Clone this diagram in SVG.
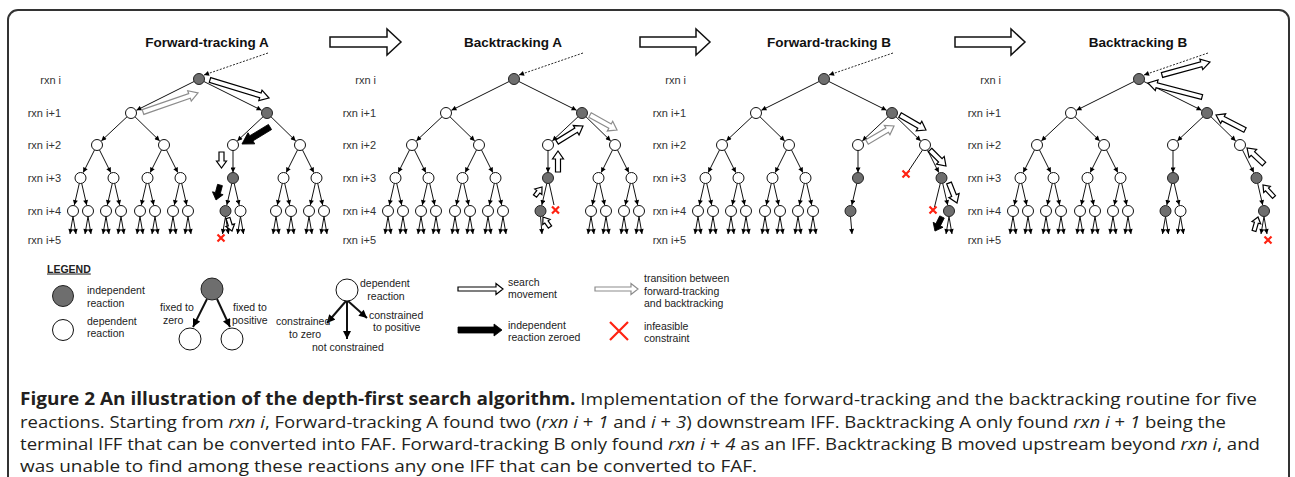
<svg xmlns="http://www.w3.org/2000/svg" xmlns:xlink="http://www.w3.org/1999/xlink" width="1295" height="477" viewBox="0 0 1295 477">
<style>
.w{fill:#fff;stroke:#111;stroke-width:1}
.g{fill:#6e6e6e;stroke:#222;stroke-width:1}
.e line{stroke:#111;stroke-width:1;marker-end:url(#ah)}
.e line.nm{marker-end:none}
.e line.dot{stroke-dasharray:2 1.5;stroke-width:0.9}
.lbl{font-family:"Liberation Sans",Arial,sans-serif;font-size:11px;fill:#333;text-anchor:end}
.ttl{font-family:"Liberation Sans",Arial,sans-serif;font-weight:bold;font-size:13.5px;fill:#111;text-anchor:middle}
.hol{fill:#fff;stroke:#000;stroke-width:1.2}
.grh{fill:#fff;stroke:#8c8c8c;stroke-width:1.2}
.blk{fill:#000;stroke:#000;stroke-width:0.8}
.x{fill:none;stroke:#f21;stroke-width:2.2}
.lg{font-family:"Liberation Sans",Arial,sans-serif;font-size:10.5px;fill:#222}
.la line{stroke:#111;stroke-width:2;marker-end:url(#ahL)}
.cap{font-family:"Open Sans","Noto Sans",sans-serif;font-size:17px;fill:#231f20}
.big{fill:#fff;stroke:#111;stroke-width:1.5}
</style>
<defs>
<marker id="ah" viewBox="0 0 10 10" refX="10" refY="5" markerWidth="6" markerHeight="5" markerUnits="userSpaceOnUse" orient="auto"><path d="M0,0L10,5L0,10Z" fill="#000"/></marker>
<marker id="ahL" viewBox="0 0 10 10" refX="10" refY="5" markerWidth="9" markerHeight="8" markerUnits="userSpaceOnUse" orient="auto"><path d="M0,0L10,5L0,10Z" fill="#000"/></marker>
<path id="xm" class="x" d="M-3.5,-3.5L3.5,3.5M-3.5,3.5L3.5,-3.5"/>
<g id="lp" class="e"><line x1="0" y1="216.5" x2="-3" y2="234"/><line x1="0" y1="216.5" x2="3" y2="234"/></g>
<g id="sub2">
<g class="e">
<line x1="-2.5" y1="150" x2="-13.8" y2="172.6"/>
<line x1="2.5" y1="150" x2="13.8" y2="172.6"/>
<line x1="-17.7" y1="183.4" x2="-22.7" y2="205.1"/>
<line x1="-15.3" y1="183.4" x2="-10.3" y2="205.1"/>
<line x1="15.3" y1="183.4" x2="10.3" y2="205.1"/>
<line x1="17.7" y1="183.4" x2="22.7" y2="205.1"/>
</g>
<use xlink:href="#lp" href="#lp" x="-24"/><use xlink:href="#lp" href="#lp" x="-9"/><use xlink:href="#lp" href="#lp" x="9"/><use xlink:href="#lp" href="#lp" x="24"/>
<circle class="w" cx="0" cy="145" r="5.5"/>
<circle class="w" cx="-16.5" cy="178" r="5.5"/><circle class="w" cx="16.5" cy="178" r="5.5"/>
<circle class="w" cx="-24" cy="211" r="5.5"/><circle class="w" cx="-9" cy="211" r="5.5"/><circle class="w" cx="9" cy="211" r="5.5"/><circle class="w" cx="24" cy="211" r="5.5"/>
</g>
<g id="top">
<g class="e">
<line class="dot" x1="69" y1="53" x2="5" y2="75"/>
<line x1="-4.9" y1="81.5" x2="-62.6" y2="110.3"/>
<line x1="4.9" y1="81.5" x2="62.6" y2="110.3"/>
<line x1="-72" y1="116.8" x2="-97.7" y2="140.9"/>
<line x1="-64" y1="116.8" x2="-39.3" y2="140.9"/>
<line x1="64" y1="116.8" x2="38.3" y2="140.9"/>
<line x1="72" y1="116.8" x2="96.7" y2="140.9"/>
</g>
<use xlink:href="#sub2" href="#sub2" x="-102"/><use xlink:href="#sub2" href="#sub2" x="-35"/>
<circle class="g" cx="0" cy="79" r="5.5"/>
<circle class="w" cx="-68" cy="113" r="5.5"/>
<circle class="g" cx="68" cy="113" r="5.5"/>
<circle class="w" cx="34" cy="145" r="5.5"/>
<text class="lbl" x="-138" y="83.5">rxn i</text>
<text class="lbl" x="-138" y="117">rxn i+1</text>
<text class="lbl" x="-138" y="149">rxn i+2</text>
<text class="lbl" x="-138" y="182">rxn i+3</text>
<text class="lbl" x="-138" y="215">rxn i+4</text>
<text class="lbl" x="-138" y="244">rxn i+5</text>
</g>
</defs>

<path id="frame" d="M8,495V20A10,10 0 0 1 18,10H1279A10,10 0 0 1 1289,20V495" fill="none" stroke="#333" stroke-width="2"/>

<g id="titles">
<text class="ttl" x="207" y="47">Forward-tracking A</text>
<text class="ttl" x="513" y="47">Backtracking A</text>
<text class="ttl" x="829" y="47">Forward-tracking B</text>
<text class="ttl" x="1138" y="47">Backtracking B</text>
</g>
<g id="stage-arrows">
<path class="big" d="M330,37H387V29L401,42L387,55V47H330Z"/>
<path class="big" d="M640,37H696V29L710,42L696,55V47H640Z"/>
<path class="big" d="M955,37H1011V29L1025,42L1011,55V47H955Z"/>
</g>

<!-- Panel 1 -->
<g id="p1" transform="translate(199,0)">
<use xlink:href="#top" href="#top"/>
<g id="p1-connectors" class="e">
<line x1="34" y1="150.5" x2="34" y2="172.5"/>
<line x1="32.8" y1="183.4" x2="27.8" y2="205.1"/>
<line x1="35.2" y1="183.4" x2="40.2" y2="205.1"/>
</g>
<use xlink:href="#sub2" href="#sub2" x="101"/>
<use xlink:href="#lp" href="#lp" x="26.5"/><use xlink:href="#lp" href="#lp" x="41.5"/>
<g id="p1-n3"><circle class="g" cx="34" cy="178" r="5.5"/></g>
<g id="p1-n4a"><circle class="g" cx="26.5" cy="211" r="5.5"/></g>
<g id="p1-n4b"><circle class="w" cx="41.5" cy="211" r="5.5"/></g>
<use xlink:href="#xm" href="#xm" x="22" y="238"/>
<path class="hol" transform="translate(11,80) rotate(16.96)" d="M0,-2.5H52.7V-5.5L61.7,0L52.7,5.5V2.5H0Z"/>
<path class="grh" transform="translate(-56,112) rotate(-19.06)" d="M0,-2.5H49.2V-5.5L58.2,0L49.2,5.5V2.5H0Z"/>
<path class="blk" transform="translate(71,127) rotate(148.74)" d="M0,-3H21.8V-6.5L32.8,0L21.8,6.5V3H0Z"/>
<path class="hol" transform="translate(22.5,152) rotate(90)" d="M0,-2.5H9V-5L16,0L9,5V2.5H0Z"/>
<path class="blk" transform="translate(21,185) rotate(104.9)" d="M0,-2.5H8.5V-5.5L15.5,0L8.5,5.5V2.5H0Z"/>
<path class="hol" transform="translate(29,218) rotate(72.9)" d="M0,-2H7.6V-4.5L13.6,0L7.6,4.5V2H0Z"/>
</g>

<!-- Panel 2 -->
<g id="p2" transform="translate(514,0)">
<use xlink:href="#top" href="#top"/>
<g id="p2-connectors" class="e">
<line x1="34" y1="150.5" x2="34" y2="172.5"/>
<line x1="32.8" y1="183.4" x2="27.8" y2="205.1"/>
<line class="nm" x1="35.2" y1="183.4" x2="40" y2="205"/>
<line x1="26.5" y1="216.5" x2="28" y2="234"/>
</g>
<use xlink:href="#sub2" href="#sub2" x="101"/>
<g id="p2-n3"><circle class="g" cx="34" cy="178" r="5.5"/></g>
<g id="p2-n4a"><circle class="g" cx="26.5" cy="211" r="5.5"/></g>
<use xlink:href="#xm" href="#xm" x="41.5" y="210"/>
<path class="grh" transform="translate(76,115) rotate(29.05)" d="M0,-2.5H22.9V-5.5L30.9,0L22.9,5.5V2.5H0Z"/>
<path class="hol" transform="translate(43,142) rotate(-31.6)" d="M0,-2.5H22.5V-5.5L30.5,0L22.5,5.5V2.5H0Z"/>
<path class="hol" transform="translate(44,172) rotate(-90)" d="M0,-2.5H13V-5.5L21,0L13,5.5V2.5H0Z"/>
<path class="hol" transform="translate(21,196) rotate(-52.1)" d="M0,-2H5.4V-4.5L11.4,0L5.4,4.5V2H0Z"/>
<path class="hol" transform="translate(36,227) rotate(-125)" d="M0,-2H6.2V-4.5L12.2,0L6.2,4.5V2H0Z"/>
</g>

<!-- Panel 3 -->
<g id="p3" transform="translate(824,0)">
<use xlink:href="#top" href="#top"/>
<g id="p3-connectors" class="e">
<line x1="34" y1="150.5" x2="34" y2="172.5"/>
<line x1="32.8" y1="183.4" x2="27.8" y2="205.1"/>
<line x1="26.5" y1="216.5" x2="28" y2="234"/>
<line class="nm" x1="98.5" y1="150" x2="84.5" y2="171"/>
<line x1="103.5" y1="150" x2="114.8" y2="172.6"/>
<line class="nm" x1="116.3" y1="183.4" x2="110.5" y2="207"/>
<line x1="118.7" y1="183.4" x2="123.7" y2="205.1"/>
</g>
<use xlink:href="#lp" href="#lp" x="125"/>
<g id="p3-n3"><circle class="g" cx="34" cy="178" r="5.5"/></g>
<g id="p3-n4a"><circle class="g" cx="26.5" cy="211" r="5.5"/></g>
<g id="p3-n2d"><circle class="w" cx="101" cy="145" r="5.5"/></g>
<g id="p3-n3d"><circle class="g" cx="117.5" cy="178" r="5.5"/></g>
<g id="p3-n4d"><circle class="g" cx="125" cy="211" r="5.5"/></g>
<use xlink:href="#xm" href="#xm" x="82" y="174"/>
<use xlink:href="#xm" href="#xm" x="109" y="210"/>
<path class="hol" transform="translate(76,115) rotate(30)" d="M0,-2.5H22V-5.5L30,0L22,5.5V2.5H0Z"/>
<path class="grh" transform="translate(43,142) rotate(-30.65)" d="M0,-2.5H23.4V-5.5L31.4,0L23.4,5.5V2.5H0Z"/>
<path class="hol" transform="translate(106,150) rotate(45)" d="M0,-2.5H14.6V-5.5L22.6,0L14.6,5.5V2.5H0Z"/>
<path class="hol" transform="translate(125,183) rotate(68.2)" d="M0,-2.5H13.5V-5.5L21.5,0L13.5,5.5V2.5H0Z"/>
<path class="blk" transform="translate(118,217) rotate(116.6)" d="M0,-2.5H8.7V-5.5L15.7,0L8.7,5.5V2.5H0Z"/>
</g>

<!-- Panel 4 -->
<g id="p4" transform="translate(1139,0)">
<use xlink:href="#top" href="#top"/>
<g id="p4-connectors" class="e">
<line x1="34" y1="150.5" x2="34" y2="172.5"/>
<line x1="32.8" y1="183.4" x2="27.8" y2="205.1"/>
<line x1="35.2" y1="183.4" x2="40.2" y2="205.1"/>
<line x1="103.5" y1="150" x2="114.8" y2="172.6"/>
<line x1="118.7" y1="183.4" x2="123.7" y2="205.1"/>
</g>
<use xlink:href="#lp" href="#lp" x="26.5"/><use xlink:href="#lp" href="#lp" x="41.5"/><use xlink:href="#lp" href="#lp" x="125"/>
<g id="p4-n3"><circle class="g" cx="34" cy="178" r="5.5"/></g>
<g id="p4-n4a"><circle class="g" cx="26.5" cy="211" r="5.5"/></g>
<g id="p4-n4b"><circle class="w" cx="41.5" cy="211" r="5.5"/></g>
<g id="p4-n2d"><circle class="w" cx="101" cy="145" r="5.5"/></g>
<g id="p4-n3d"><circle class="g" cx="117.5" cy="178" r="5.5"/></g>
<g id="p4-n4d"><circle class="g" cx="125" cy="211" r="5.5"/></g>
<use xlink:href="#xm" href="#xm" x="129" y="240"/>
<path class="hol" transform="translate(23,75) rotate(-15.15)" d="M0,-2.5H40.7V-5.5L49.7,0L40.7,5.5V2.5H0Z"/>
<path class="hol" transform="translate(63,97) rotate(-165.5)" d="M0,-2.5H46.8V-5.5L55.8,0L46.8,5.5V2.5H0Z"/>
<path class="hol" transform="translate(106,130) rotate(-152.65)" d="M0,-2.5H24.6V-5.5L32.6,0L24.6,5.5V2.5H0Z"/>
<path class="hol" transform="translate(125,164) rotate(-136.7)" d="M0,-2.5H15.3V-5.5L23.3,0L15.3,5.5V2.5H0Z"/>
<path class="hol" transform="translate(135,197) rotate(-132.5)" d="M0,-2H10.3V-4.5L16.3,0L10.3,4.5V2H0Z"/>
<path class="hol" transform="translate(115,231) rotate(-74.05)" d="M0,-2H8.6V-4.5L14.6,0L8.6,4.5V2H0Z"/>
</g>

<!-- Legend -->
<g id="legend">
<text class="lg" x="47" y="272.5" font-weight="bold" font-size="13" text-decoration="underline">LEGEND</text>
<g id="lg-indep"><circle class="g" cx="63" cy="296" r="10.5"/>
<text class="lg" x="87" y="294">independent</text><text class="lg" x="87" y="306.5">reaction</text></g>
<g id="lg-dep"><circle class="w" cx="63" cy="330" r="10.5"/>
<text class="lg" x="87" y="324.5">dependent</text><text class="lg" x="87" y="336.5">reaction</text></g>
<g id="lg-fixed">
<g class="la"><line x1="207" y1="299" x2="193" y2="327"/><line x1="217" y1="299" x2="230" y2="327"/></g>
<circle class="g" cx="212" cy="289" r="11"/>
<circle class="w" cx="190" cy="339" r="11"/>
<circle class="w" cx="232" cy="339" r="11"/>
<text class="lg" x="160" y="311">fixed to</text><text class="lg" x="163" y="324">zero</text>
<text class="lg" x="233" y="311">fixed to</text><text class="lg" x="232" y="324">positive</text>
</g>
<g id="lg-constr">
<g class="la"><line x1="346" y1="301" x2="327" y2="323"/><line x1="347" y1="301" x2="347" y2="339"/><line x1="348" y1="301" x2="367" y2="318"/></g>
<circle class="w" cx="347" cy="290" r="11"/>
<text class="lg" x="360" y="287">dependent</text><text class="lg" x="386" y="300" text-anchor="middle">reaction</text>
<text class="lg" x="276" y="325">constrained</text><text class="lg" x="289" y="338">to zero</text>
<text class="lg" x="312" y="351">not constrained</text>
<text class="lg" x="369" y="319">constrained</text><text class="lg" x="373" y="331">to positive</text>
</g>
<g id="lg-search"><path class="hol" d="M458,287H496V283.5L503,289L496,294.5V291H458Z"/>
<text class="lg" x="508" y="286">search</text><text class="lg" x="508" y="298">movement</text></g>
<g id="lg-trans"><path class="grh" d="M595,287H631V283.5L638,289L631,294.5V291H595Z"/>
<text class="lg" x="644" y="282">transition between</text><text class="lg" x="644" y="295">forward-tracking</text><text class="lg" x="644" y="307">and backtracking</text></g>
<g id="lg-zero"><path class="blk" d="M458,327H494V324L502,330L494,336V333H458Z"/>
<text class="lg" x="508" y="329">independent</text><text class="lg" x="508" y="341">reaction zeroed</text></g>
<g id="lg-inf"><path class="x" stroke-width="2" d="M610,322L628,340M610,340L628,322"/>
<text class="lg" x="644" y="330">infeasible</text><text class="lg" x="644" y="342">constraint</text></g>
</g>

<!-- Caption -->
<g id="caption" class="cap">
<text x="20" y="405" textLength="1237" lengthAdjust="spacingAndGlyphs"><tspan font-weight="bold">Figure 2 An illustration of the depth-first search algorithm.</tspan> Implementation of the forward-tracking and the backtracking routine for five</text>
<text x="20" y="427.5" textLength="1206" lengthAdjust="spacingAndGlyphs">reactions. Starting from <tspan font-style="italic">rxn i</tspan>, Forward-tracking A found two (<tspan font-style="italic">rxn i</tspan> + <tspan font-style="italic">1</tspan> and <tspan font-style="italic">i</tspan> + <tspan font-style="italic">3</tspan>) downstream IFF. Backtracking A only found <tspan font-style="italic">rxn i</tspan> + <tspan font-style="italic">1</tspan> being the</text>
<text x="20" y="450" textLength="1240" lengthAdjust="spacingAndGlyphs">terminal IFF that can be converted into FAF. Forward-tracking B only found <tspan font-style="italic">rxn i</tspan> + <tspan font-style="italic">4</tspan> as an IFF. Backtracking B moved upstream beyond <tspan font-style="italic">rxn i</tspan>, and</text>
<text x="20" y="472" textLength="737" lengthAdjust="spacingAndGlyphs">was unable to find among these reactions any one IFF that can be converted to FAF.</text>
</g>
</svg>
